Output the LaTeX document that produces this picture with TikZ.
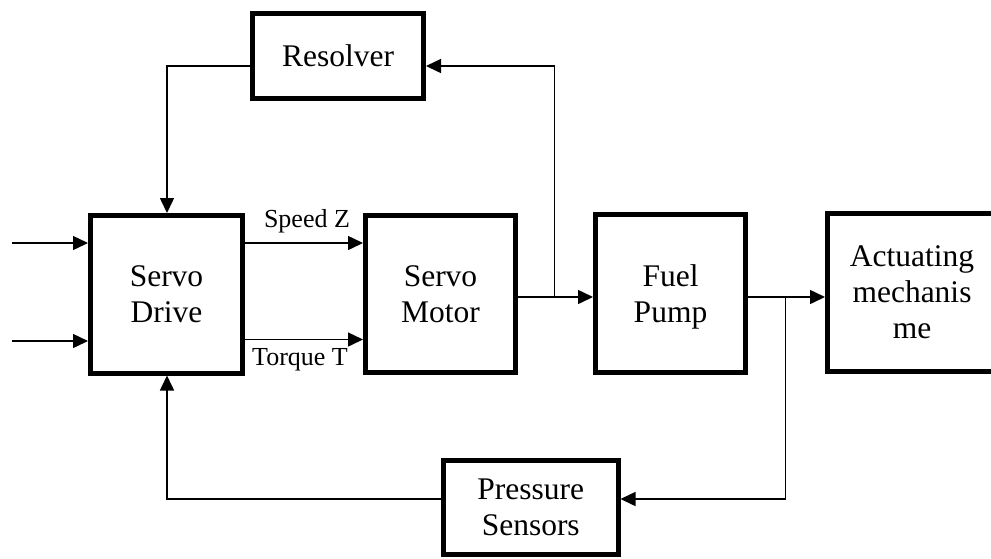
\documentclass[tikz,border=0pt]{standalone}
\usepackage{fontspec}
\setmainfont{Liberation Serif}
\usetikzlibrary{arrows.meta}
\begin{document}
\begin{tikzpicture}[x=1pt,y=-1pt,
  blk/.style={draw, line width=5pt, inner sep=0pt, align=center,
    font=\fontsize{31.5}{36}\selectfont, text depth=0pt},
  conn/.style={line width=1.5pt, -{Triangle[length=15pt,width=14pt]}},
  lbl/.style={font=\fontsize{26}{30}\selectfont, anchor=base, inner sep=0pt}]
\useasboundingbox (0,0) rectangle (991,558);
\clip (0,0) rectangle (991,558);
% blocks
\node[blk, minimum width=152pt, minimum height=157.5pt] (sd) at (166.5,294.25) {Servo\\Drive};
\node[blk, minimum width=150pt, minimum height=157pt] (sm) at (440.5,294) {Servo\\Motor};
\node[blk, minimum width=150pt, minimum height=158pt] (fp) at (670.5,293.5) {Fuel\\Pump};
\node[blk, minimum width=169pt, minimum height=158pt] (act) at (912,292.5) {Actuating\\mechanis\\me};
\node[blk, minimum width=171pt, minimum height=85pt] (res) at (338,56) {Resolver};
\node[blk, minimum width=174.5pt, minimum height=94.5pt] (ps) at (530.75,507.5) {Pressure\\Sensors};
% labels
\node[lbl] (lsz) at (307,227.5) {Speed Z};
\node[lbl] (ltt) at (300,365) {Torque T};
% coordinates
\coordinate (in1) at (12,243);
\coordinate (in2) at (12,341);
\coordinate (sz) at (0,243);
\coordinate (tt) at (0,339.5);
\coordinate (m) at (0,297);
\coordinate (rl) at (0,66);
\coordinate (pl) at (0,499);
\coordinate (b1) at (554.3,297);
\coordinate (b2) at (167,66);
\coordinate (b3) at (785.3,297);
% connectors
\draw[conn] (in1) -- (in1 -| sd.west);
\draw[conn] (in2) -- (in2 -| sd.west);
\draw[conn] (sd.east |- sz) -- (sm.west |- sz);
\draw[conn] (sd.east |- tt) -- (sm.west |- tt);
\draw[conn] (sm.east |- m) -- (fp.west |- m);
\draw[conn] (b1) -- (b1 |- rl) -- (res.east |- rl);
\draw[conn] (res.west |- rl) -- (b2) -- (b2 |- sd.north);
\draw[conn] (fp.east |- m) -- (act.west |- m);
\draw[conn] (b3) -- (b3 |- pl) -- (ps.east |- pl);
\draw[conn] (ps.west |- pl) -- (b2 |- pl) -- (b2 |- sd.south);
\end{tikzpicture}
\end{document}
